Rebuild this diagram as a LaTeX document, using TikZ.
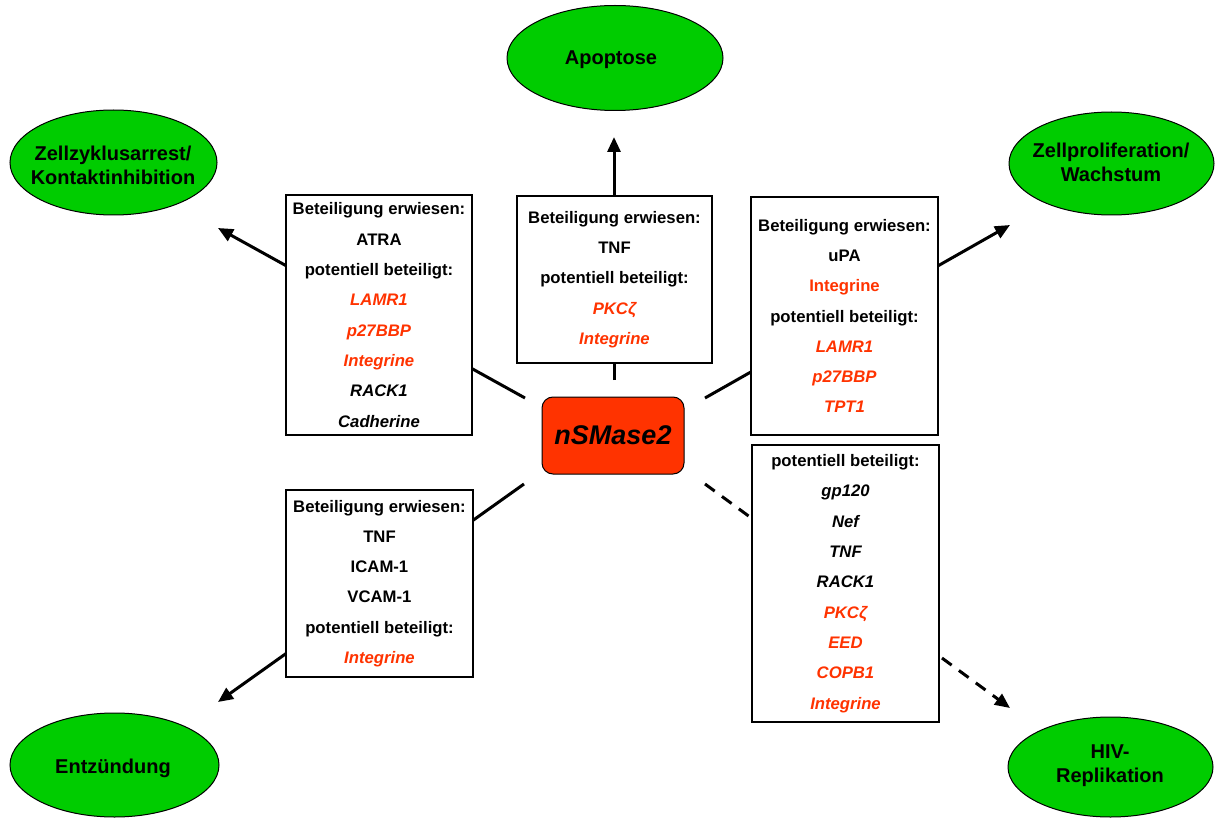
\documentclass[tikz,border=0pt]{standalone}
\usepackage{fontspec}
\setmainfont{Liberation Sans}
\usetikzlibrary{arrows.meta,shapes.geometric}
\definecolor{effgreen}{RGB}{0,204,0}
\definecolor{enzred}{RGB}{255,51,0}
\definecolor{txtred}{RGB}{255,51,0}
\tikzset{
  effect/.style={ellipse, draw=black, line width=1pt, fill=effgreen, inner sep=0pt},
  efftext/.style={inner sep=0pt, align=center, font=\fontsize{20}{24}\selectfont\bfseries},
  infobox/.style={rectangle, draw=black, line width=1.1pt, fill=white, inner sep=0pt,
    align=center, font=\fontsize{16.7}{30.3}\selectfont\bfseries},
  enzyme/.style={rectangle, rounded corners=11pt, draw=black, line width=1pt, fill=enzred,
    inner sep=0pt, minimum width=142pt, minimum height=77pt,
    font=\fontsize{27}{30}\selectfont\bfseries\itshape},
  link/.style={line width=3pt, -{Triangle[length=15pt,width=13pt]}},
  dlink/.style={link, dash pattern=on 12pt off 9pt},
}
\newcommand{\ri}[1]{\textcolor{txtred}{\itshape #1}}
\newcommand{\bi}[1]{{\itshape #1}}
\begin{document}
\begin{tikzpicture}[x=1pt,y=-1pt]
\useasboundingbox (0,0) rectangle (1215,818);

% ellipses
\node[effect, minimum width=216pt, minimum height=105pt] (apo) at (615,58) {};
\node[efftext] (apot) at (611,60) {Apoptose};
\node[effect, minimum width=207pt, minimum height=105pt] (zell) at (113.5,162.5) {};
\node[efftext] (zellt) at (113,165) {Zellzyklusarrest/\\Kontaktinhibition};
\node[effect, minimum width=205pt, minimum height=103pt] (prol) at (1111.5,163.5) {};
\node[efftext] (prolt) at (1111,162) {Zellproliferation/\\Wachstum};
\node[effect, minimum width=209pt, minimum height=104pt] (entz) at (114.5,765) {};
\node[efftext] (entzt) at (113,768) {Entzündung};
\node[effect, minimum width=205pt, minimum height=100pt] (hiv) at (1110.5,767) {};
\node[efftext] (hivt) at (1110,766) {HIV-\\Replikation};

% center enzyme
\node[enzyme] (nsm) at (613,435.5) {nSMase2};

% connector end points
\coordinate (s1) at (614,380);   \coordinate (e1) at (614,137);
\coordinate (s2) at (525,398);   \coordinate (e2) at (218,228);
\coordinate (s3) at (705,398);   \coordinate (e3) at (1010,225);
\coordinate (s4) at (524,484);   \coordinate (e4) at (218,702);
\coordinate (s5) at (705,484);   \coordinate (e5) at (1010,708);

\draw[link] (s1) -- (e1);
\draw[link] (s2) -- (e2);
\draw[link] (s3) -- (e3);
\draw[link] (s4) -- (e4);
\draw[dlink] (s5) -- (e5);

% info boxes
\node[infobox, minimum width=186pt, minimum height=240pt] (b1) at (379,315)
 {Beteiligung erwiesen:\\ATRA\\potentiell beteiligt:\\\ri{LAMR1}\\\ri{p27BBP}\\\ri{Integrine}\\\bi{RACK1}\\\bi{Cadherine}};
\node[infobox, minimum width=195pt, minimum height=167pt] (b2) at (614.5,279.5)
 {Beteiligung erwiesen:\\TNF\\potentiell beteiligt:\\\ri{PKCζ}\\\ri{Integrine}};
\node[infobox, minimum width=187pt, minimum height=238pt] (b3) at (844.5,316)
 {Beteiligung erwiesen:\\uPA\\\textcolor{txtred}{Integrine}\\potentiell beteiligt:\\\ri{LAMR1}\\\ri{p27BBP}\\\ri{TPT1}};
\node[infobox, minimum width=187pt, minimum height=187pt] (b4) at (379.5,583.5)
 {Beteiligung erwiesen:\\TNF\\ICAM-1\\VCAM-1\\potentiell beteiligt:\\\ri{Integrine}};
\node[infobox, minimum width=187pt, minimum height=277pt] (b5) at (845.5,583.5)
 {potentiell beteiligt:\\\bi{gp120}\\\bi{Nef}\\\bi{TNF}\\\bi{RACK1}\\\ri{PKCζ}\\\ri{EED}\\\ri{COPB1}\\\ri{Integrine}};
\end{tikzpicture}
\end{document}
